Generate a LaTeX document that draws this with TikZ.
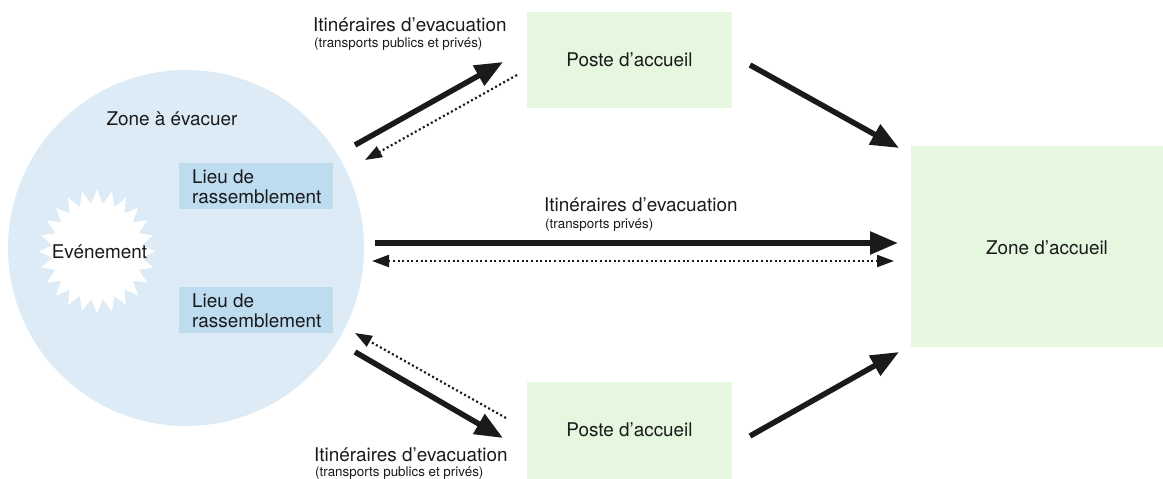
\documentclass[tikz,border=0pt]{standalone}
\usepackage{fontspec}
\setmainfont{TeX Gyre Heros}
\usetikzlibrary{arrows.meta}
\definecolor{zoneblue}{HTML}{DCEBF6}
\definecolor{lieublue}{HTML}{BDDCF0}
\definecolor{accgreen}{HTML}{E5F8DF}
\definecolor{ink}{HTML}{1A1A1A}
\tikzset{
  bigtext/.style={font=\fontsize{18.9}{20}\selectfont, text=ink, inner sep=0pt},
  smalltext/.style={font=\fontsize{13.4}{15}\selectfont, text=ink, inner sep=0pt},
  lieubox/.style={fill=lieublue, minimum width=154pt, minimum height=46pt, inner sep=0pt},
  greenbox/.style={fill=accgreen, inner sep=0pt},
  thickarrow/.style={draw=ink, line width=5.5pt, -{Triangle[length=28pt,width=22pt]}},
  dotarrow/.style={draw=ink, line width=2.2pt, dash pattern=on 2pt off 2.6pt, -{Triangle[length=17pt,width=12pt]}},
  dotarrowboth/.style={draw=ink, line width=2.2pt, dash pattern=on 2pt off 2.6pt, {Triangle[length=17pt,width=12pt]}-{Triangle[length=17pt,width=12pt]}}
}
\begin{document}
\begin{tikzpicture}[x=1pt,y=-1pt]
\useasboundingbox (0,0) rectangle (1163,479);
% zone a evacuer
\node[circle, fill=zoneblue, minimum size=356pt, inner sep=0pt] (zone) at (186,248) {};
\node[bigtext] (zonelbl) at (172,119) {Zone à évacuer};
% event star
\fill[white, shift={(97,251.5)}] (58,0)
  \foreach \k [evaluate=\k as \rx using {mod(\k,2)==0 ? 58 : 45},
               evaluate=\k as \ry using {mod(\k,2)==0 ? 62 : 48}] in {1,...,47}
  { -- ({\rx*cos(\k*7.5)},{\ry*sin(\k*7.5)}) } -- cycle;
\node[bigtext] (evtlbl) at (99.5,252) {Evénement};
% lieux
\node[lieubox] (lieu1) at (256,186) {};
\node[bigtext, anchor=base west, align=left] (lieu1lbl) at (192,203) {Lieu de\\rassemblement};
\node[lieubox] (lieu2) at (256,310) {};
\node[bigtext, anchor=base west, align=left] (lieu2lbl) at (192,327) {Lieu de\\rassemblement};
% postes
\node[greenbox, minimum width=205pt, minimum height=96pt] (poste1) at (629.5,60) {};
\node[bigtext] (poste1lbl) at (629.5,60) {Poste d’accueil};
\node[greenbox, minimum width=205pt, minimum height=97pt] (poste2) at (629.5,430.5) {};
\node[bigtext] (poste2lbl) at (629.5,430) {Poste d’accueil};
% zone d'accueil
\node[greenbox, minimum width=252pt, minimum height=201pt] (acc) at (1037,246.5) {};
\node[bigtext] (acclbl) at (1047,248) {Zone d’accueil};
% labels
\node[bigtext, anchor=base west] (l1) at (313,31.5) {Itinéraires d’evacuation};
\node[smalltext, anchor=base west] (l1s) at (314,47.5) {(transports publics et privés)};
\node[bigtext, anchor=base west] (l2) at (544,211.5) {Itinéraires d’evacuation};
\node[smalltext, anchor=base west] (l2s) at (545,228) {(transports privés)};
\node[bigtext, anchor=base west] (l3) at (314,461) {Itinéraires d’evacuation};
\node[smalltext, anchor=base west] (l3s) at (315,476.5) {(transports publics et privés)};
% arrow endpoints
\coordinate (a1s) at (355,145); \coordinate (a1e) at (503,62);
\coordinate (d1s) at (517,75);  \coordinate (d1e) at (365,160);
\coordinate (a2s) at (750,65);  \coordinate (a2e) at (899,148);
\coordinate (ms) at (375,243);  \coordinate (me) at (898,243);
\coordinate (dms) at (372,261); \coordinate (dme) at (894,261);
\coordinate (b1s) at (355,352); \coordinate (b1e) at (503,438);
\coordinate (e1s) at (506,418); \coordinate (e1e) at (355,333);
\coordinate (b2s) at (750,436); \coordinate (b2e) at (899,352);
\draw[thickarrow] (a1s) -- (a1e);
\draw[dotarrow] (d1s) -- (d1e);
\draw[thickarrow] (a2s) -- (a2e);
\draw[thickarrow] (ms) -- (me);
\draw[dotarrowboth] (dms) -- (dme);
\draw[thickarrow] (b1s) -- (b1e);
\draw[dotarrow] (e1s) -- (e1e);
\draw[thickarrow] (b2s) -- (b2e);
\end{tikzpicture}
\end{document}
